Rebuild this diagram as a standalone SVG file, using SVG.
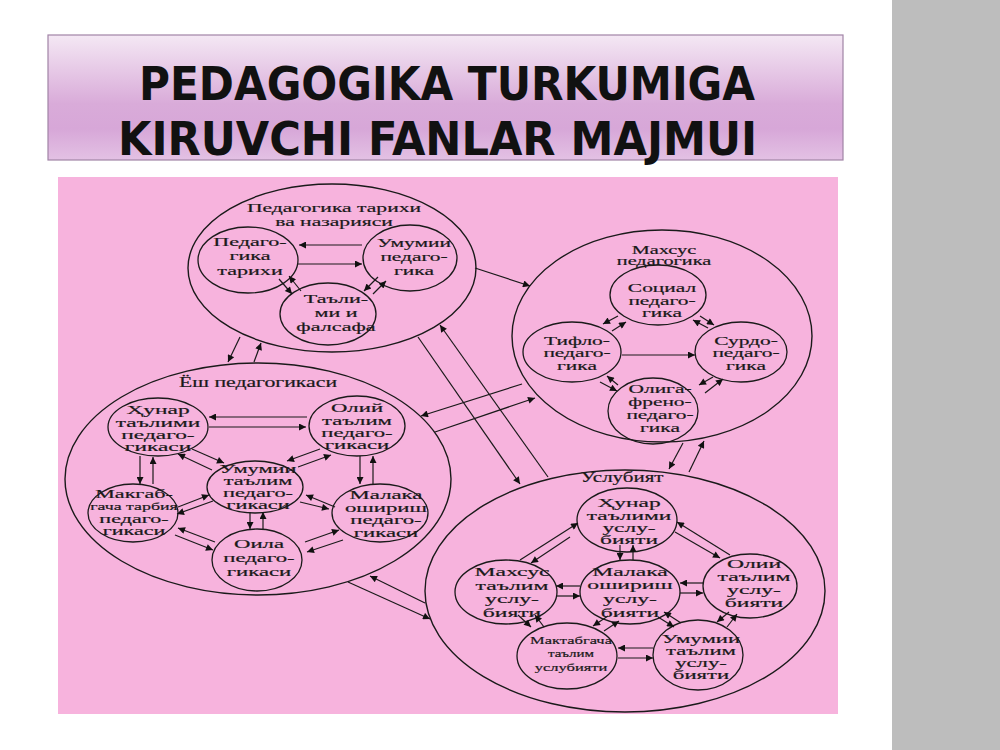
<svg xmlns="http://www.w3.org/2000/svg" width="1000" height="750" viewBox="0 0 1000 750">
<defs>
<linearGradient id="tg" x1="0" y1="0" x2="0" y2="1">
<stop offset="0" stop-color="#f4e8f4"/>
<stop offset="0.55" stop-color="#d9abd9"/>
<stop offset="0.75" stop-color="#d7a7d8"/>
<stop offset="1" stop-color="#e3c1e4"/>
</linearGradient>
<marker id="ah" viewBox="0 0 10 10" refX="10" refY="5" markerWidth="9" markerHeight="7" orient="auto" markerUnits="userSpaceOnUse">
<path d="M0,0 L10,5 L0,10 z" fill="#111"/>
</marker>
<style>
.big{fill:none;stroke:#1a1a1a;stroke-width:1.4}
.nd{fill:none;stroke:#1a1a1a;stroke-width:1.3}
text.t{font-family:"Liberation Serif","DejaVu Serif",serif;font-size:13px;fill:#1a1a1a;stroke:#1a1a1a;stroke-width:0.2;text-anchor:middle}
text.ts{font-size:11px}
#connectors line{stroke:#1a1a1a;stroke-width:1.2;marker-end:url(#ah)}
</style>
</defs>
<rect x="0" y="0" width="1000" height="750" fill="#ffffff"/>
<rect x="892" y="0" width="108" height="750" fill="#bdbdbd"/>
<g id="title">
<rect x="48" y="35" width="795" height="125" fill="url(#tg)" stroke="#a184a6" stroke-width="1.2"/>
<text x="139" y="100" textLength="616" lengthAdjust="spacingAndGlyphs" font-family="DejaVu Sans Condensed,DejaVu Sans,sans-serif" font-weight="bold" font-size="47" fill="#111">PEDAGOGIKA TURKUMIGA</text>
<text x="118" y="155" textLength="639" lengthAdjust="spacingAndGlyphs" font-family="DejaVu Sans Condensed,DejaVu Sans,sans-serif" font-weight="bold" font-size="47" fill="#111">KIRUVCHI FANLAR MAJMUI</text>
</g>
<rect x="58" y="177" width="780" height="537" fill="#f7b3dd"/>

<g id="pedagogika-tarixi">
<ellipse class="big" cx="332" cy="268" rx="144" ry="84"/>
<g transform="translate(334 0) scale(1.6 1)"><text class="t" x="0" y="212" style="font-size:13.5px">Педагогика тарихи</text><text class="t" x="0" y="226" style="font-size:13.5px">ва назарияси</text></g>
</g>
<g id="ped-tarixi"><ellipse class="nd" cx="248" cy="260" rx="50" ry="33"/>
<g transform="translate(250 0) scale(1.7 1)"><text class="t" x="0" y="246">Педаго-</text><text class="t" x="0" y="260">гика</text><text class="t" x="0" y="275">тарихи</text></g></g>
<g id="umumiy-ped"><ellipse class="nd" cx="410" cy="258" rx="47" ry="33"/>
<g transform="translate(414 0) scale(1.65 1)"><text class="t" x="0" y="247">Умумии</text><text class="t" x="0" y="261">педаго-</text><text class="t" x="0" y="275">гика</text></g></g>
<g id="talim-falsafa"><ellipse class="nd" cx="328" cy="314" rx="48" ry="31"/>
<g transform="translate(336 0) scale(1.7 1)"><text class="t" x="0" y="303">Таъли-</text><text class="t" x="0" y="317">ми и</text><text class="t" x="0" y="331">фалсафа</text></g></g>

<g id="maxsus-pedagogika">
<ellipse class="big" cx="662" cy="336" rx="150" ry="106"/>
<g transform="translate(664 0) scale(1.62 1)"><text class="t" x="0" y="254" style="font-size:12.5px">Махсус</text><text class="t" x="0" y="265" style="font-size:12.5px">педагогика</text></g>
</g>
<g id="sotsial"><ellipse class="nd" cx="658" cy="295" rx="48" ry="30"/>
<g transform="translate(662 0) scale(1.65 1)"><text class="t" x="0" y="292">Социал</text><text class="t" x="0" y="305">педаго-</text><text class="t" x="0" y="317">гика</text></g></g>
<g id="tiflo"><ellipse class="nd" cx="572" cy="352" rx="49" ry="30"/>
<g transform="translate(577 0) scale(1.65 1)"><text class="t" x="0" y="345">Тифло-</text><text class="t" x="0" y="357">педаго-</text><text class="t" x="0" y="370">гика</text></g></g>
<g id="surdo"><ellipse class="nd" cx="741" cy="352" rx="46" ry="30"/>
<g transform="translate(746 0) scale(1.65 1)"><text class="t" x="0" y="345">Сурдо-</text><text class="t" x="0" y="357">педаго-</text><text class="t" x="0" y="370">гика</text></g></g>
<g id="oligofreno"><ellipse class="nd" cx="653" cy="411" rx="45" ry="33"/>
<g transform="translate(660 0) scale(1.65 1)"><text class="t" x="0" y="393">Олига-</text><text class="t" x="0" y="406">френо-</text><text class="t" x="0" y="419">педаго-</text><text class="t" x="0" y="432">гика</text></g></g>

<g id="yosh-pedagogikasi">
<ellipse class="big" cx="258" cy="479" rx="193" ry="116"/>
<g transform="translate(258 0) scale(1.5 1)"><text class="t" x="0" y="387" style="font-size:14.5px">Ёш педагогикаси</text></g>
</g>
<g id="hunar-ped"><ellipse class="nd" cx="158" cy="427" rx="50" ry="29"/>
<g transform="translate(158 0) scale(1.8 1)"><text class="t" x="0" y="414">Ҳунар</text><text class="t" x="0" y="427">таълими</text><text class="t" x="0" y="439">педаго-</text><text class="t" x="0" y="451">гикаси</text></g></g>
<g id="oliy-ped"><ellipse class="nd" cx="357" cy="426" rx="48" ry="30"/>
<g transform="translate(357 0) scale(1.75 1)"><text class="t" x="0" y="412">Олий</text><text class="t" x="0" y="425">таълим</text><text class="t" x="0" y="437">педаго-</text><text class="t" x="0" y="449">гикаси</text></g></g>
<g id="umumiy-talim-ped"><ellipse class="nd" cx="255" cy="487" rx="48" ry="26"/>
<g transform="translate(258 0) scale(1.72 1)"><text class="t" x="0" y="473">Умумии</text><text class="t" x="0" y="485">таълим</text><text class="t" x="0" y="497">педаго-</text><text class="t" x="0" y="509">гикаси</text></g></g>
<g id="maktabgacha-ped"><ellipse class="nd" cx="133" cy="513" rx="45" ry="29"/>
<g transform="translate(134 0) scale(1.7 1)"><text class="t" x="0" y="498">Макгаб-</text><text class="t ts" x="0" y="510" style="font-size:10.5px">гача тарбия</text><text class="t" x="0" y="523">педаго-</text><text class="t" x="0" y="535">гикаси</text></g></g>
<g id="malaka-ped"><ellipse class="nd" cx="380" cy="513" rx="48" ry="29"/>
<g transform="translate(386 0) scale(1.75 1)"><text class="t" x="0" y="499">Малака</text><text class="t" x="0" y="512">ошириш</text><text class="t" x="0" y="524">педаго-</text><text class="t" x="0" y="537">гикаси</text></g></g>
<g id="oila-ped"><ellipse class="nd" cx="257" cy="560" rx="45" ry="31"/>
<g transform="translate(259 0) scale(1.75 1)"><text class="t" x="0" y="548">Оила</text><text class="t" x="0" y="562">педаго-</text><text class="t" x="0" y="576">гикаси</text></g></g>

<g id="uslubiyat">
<ellipse class="big" cx="625" cy="591" rx="200" ry="121"/>
<g transform="translate(622 0) scale(1.5 1)"><text class="t" x="0" y="482" style="font-size:14px">Услубият</text></g>
</g>
<g id="hunar-usl"><ellipse class="nd" cx="627" cy="520" rx="50" ry="32"/>
<g transform="translate(629 0) scale(1.8 1)"><text class="t" x="0" y="507">Ҳунар</text><text class="t" x="0" y="520">таълими</text><text class="t" x="0" y="532">услу-</text><text class="t" x="0" y="544">бияти</text></g></g>
<g id="maxsus-usl"><ellipse class="nd" cx="506" cy="592" rx="51" ry="32"/>
<g transform="translate(512 0) scale(1.82 1)"><text class="t" x="0" y="576">Махсус</text><text class="t" x="0" y="590">таълим</text><text class="t" x="0" y="603">услу-</text><text class="t" x="0" y="617">бияти</text></g></g>
<g id="malaka-usl"><ellipse class="nd" cx="630" cy="592" rx="50" ry="32"/>
<g transform="translate(630 0) scale(1.82 1)"><text class="t" x="0" y="576">Малака</text><text class="t" x="0" y="589">ошириш</text><text class="t" x="0" y="603">услу-</text><text class="t" x="0" y="617">бияти</text></g></g>
<g id="oliy-usl"><ellipse class="nd" cx="750" cy="586" rx="47" ry="32"/>
<g transform="translate(754 0) scale(1.82 1)"><text class="t" x="0" y="568">Олии</text><text class="t" x="0" y="581">таълим</text><text class="t" x="0" y="594">услу-</text><text class="t" x="0" y="607">бияти</text></g></g>
<g id="maktabgacha-usl"><ellipse class="nd" cx="567" cy="656" rx="50" ry="33"/>
<g transform="translate(571 0) scale(1.5 1)"><text class="t ts" x="0" y="644">Мактабгача</text><text class="t ts" x="0" y="657" style="font-size:10px">таълим</text><text class="t ts" x="0" y="671">услубияти</text></g></g>
<g id="umumiy-usl"><ellipse class="nd" cx="698" cy="655" rx="45" ry="35"/>
<g transform="translate(701 0) scale(1.75 1)"><text class="t" x="0" y="643">Умумии</text><text class="t" x="0" y="655">таълим</text><text class="t" x="0" y="667">услу-</text><text class="t" x="0" y="679">бияти</text></g></g>

<g id="connectors">
<line x1="362" y1="245" x2="299" y2="245"/>
<line x1="298" y1="264" x2="362" y2="264"/>
<line x1="279" y1="279" x2="292" y2="294"/>
<line x1="301" y1="291" x2="289" y2="276"/>
<line x1="378" y1="277" x2="364" y2="291"/>
<line x1="373" y1="294" x2="386" y2="281"/>
<line x1="240" y1="337" x2="228" y2="362"/>
<line x1="254" y1="362" x2="261" y2="343"/>
<line x1="475" y1="268" x2="530" y2="286"/>
<line x1="418" y1="337" x2="520" y2="484"/>
<line x1="548" y1="477" x2="440" y2="325"/>
<line x1="522" y1="384" x2="421" y2="416"/>
<line x1="435" y1="432" x2="535" y2="398"/>
<line x1="683" y1="443" x2="669" y2="469"/>
<line x1="689" y1="472" x2="704" y2="441"/>
<line x1="425" y1="603" x2="370" y2="576"/>
<line x1="348" y1="582" x2="430" y2="619"/>
<line x1="618" y1="316" x2="603" y2="324"/>
<line x1="612" y1="331" x2="626" y2="322"/>
<line x1="708" y1="328" x2="693" y2="320"/>
<line x1="700" y1="316" x2="714" y2="325"/>
<line x1="622" y1="355" x2="695" y2="355"/>
<line x1="618" y1="385" x2="607" y2="376"/>
<line x1="600" y1="382" x2="617" y2="391"/>
<line x1="713" y1="377" x2="699" y2="385"/>
<line x1="705" y1="393" x2="723" y2="379"/>
<line x1="307" y1="417" x2="209" y2="417"/>
<line x1="209" y1="427" x2="306" y2="427"/>
<line x1="212" y1="470" x2="178" y2="454"/>
<line x1="192" y1="449" x2="224" y2="463"/>
<line x1="320" y1="449" x2="287" y2="461"/>
<line x1="298" y1="467" x2="331" y2="455"/>
<line x1="140" y1="456" x2="140" y2="484"/>
<line x1="153" y1="484" x2="153" y2="457"/>
<line x1="360" y1="456" x2="360" y2="484"/>
<line x1="373" y1="484" x2="373" y2="456"/>
<line x1="178" y1="507" x2="209" y2="495"/>
<line x1="213" y1="501" x2="177" y2="514"/>
<line x1="335" y1="507" x2="306" y2="495"/>
<line x1="300" y1="502" x2="329" y2="509"/>
<line x1="250" y1="512" x2="250" y2="529"/>
<line x1="263" y1="529" x2="263" y2="512"/>
<line x1="215" y1="542" x2="178" y2="528"/>
<line x1="175" y1="535" x2="213" y2="550"/>
<line x1="305" y1="542" x2="339" y2="530"/>
<line x1="343" y1="540" x2="307" y2="552"/>
<line x1="520" y1="560" x2="578" y2="523"/>
<line x1="570" y1="537" x2="531" y2="563"/>
<line x1="730" y1="555" x2="677" y2="522"/>
<line x1="675" y1="532" x2="720" y2="558"/>
<line x1="620" y1="545" x2="620" y2="560"/>
<line x1="633" y1="560" x2="633" y2="545"/>
<line x1="580" y1="586" x2="556" y2="586"/>
<line x1="556" y1="596" x2="580" y2="596"/>
<line x1="703" y1="583" x2="680" y2="583"/>
<line x1="680" y1="593" x2="703" y2="593"/>
<line x1="518" y1="615" x2="531" y2="627"/>
<line x1="544" y1="627" x2="535" y2="615"/>
<line x1="608" y1="616" x2="593" y2="626"/>
<line x1="604" y1="631" x2="619" y2="621"/>
<line x1="681" y1="623" x2="664" y2="612"/>
<line x1="658" y1="617" x2="674" y2="627"/>
<line x1="729" y1="612" x2="717" y2="622"/>
<line x1="727" y1="627" x2="737" y2="614"/>
<line x1="653" y1="648" x2="618" y2="648"/>
<line x1="618" y1="658" x2="653" y2="658"/>
</g>
</svg>
